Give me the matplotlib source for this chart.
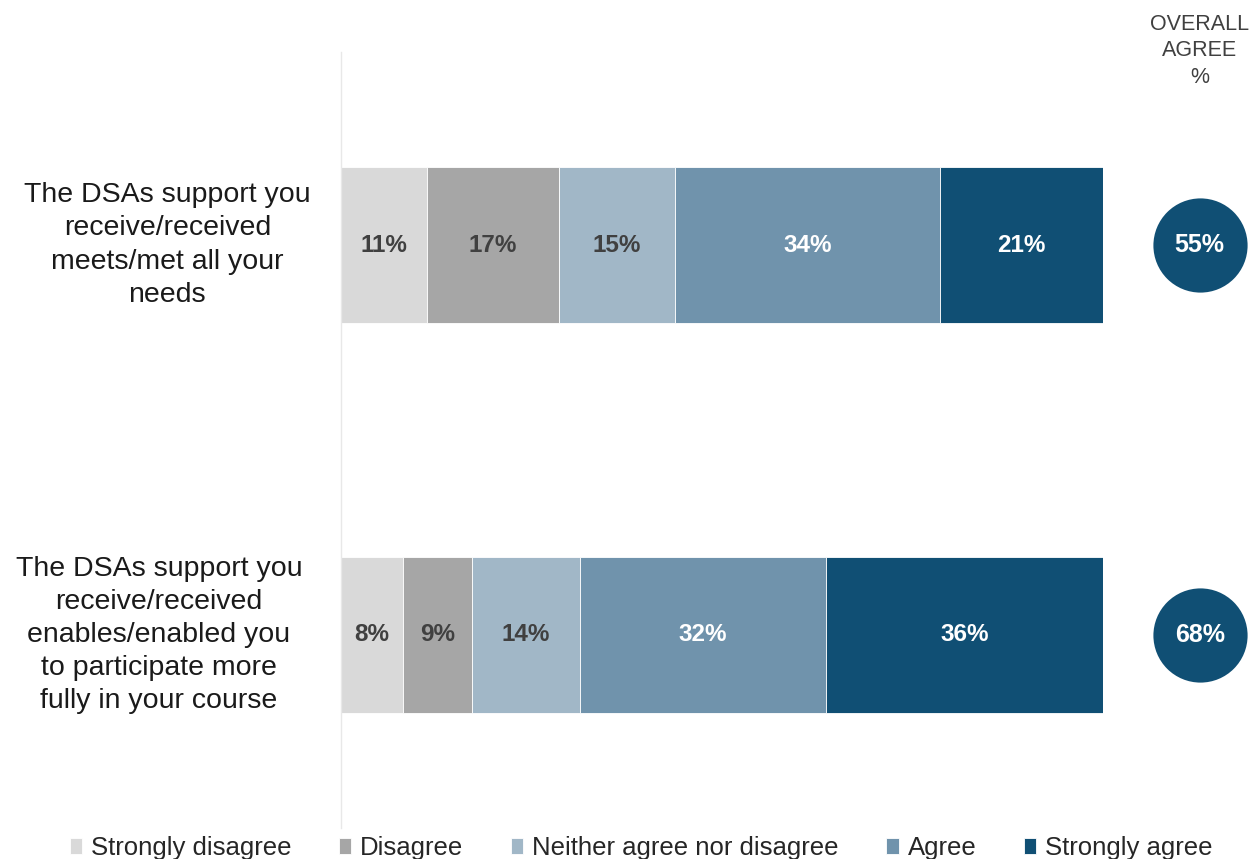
import matplotlib.pyplot as plt
import numpy as np

plt.rcParams['font.family'] = ['Liberation Sans', 'DejaVu Sans']

statements = [
    "The DSAs support you\nreceive/received\nmeets/met all your\nneeds",
    "The DSAs support you\nreceive/received\nenables/enabled you\nto participate more\nfully in your course",
]
responses = ["Strongly disagree", "Disagree", "Neither agree nor disagree", "Agree", "Strongly agree"]
strongly_disagree = [11, 8]
disagree = [17, 9]
neither = [15, 14]
agree = [34, 32]
strongly_agree = [21, 36]
overall_agree = [55, 68]

colors = ["#d9d9d9", "#a6a6a6", "#a1b7c7", "#7093ac", "#104f74"]
text_colors = ["#404040", "#404040", "#404040", "white", "white"]

series = np.array([strongly_disagree, disagree, neither, agree, strongly_agree], dtype=float)
shares = series / series.sum(axis=0) * 100  # each bar spans the full width

fig = plt.figure(figsize=(12.5, 8.59), dpi=100)
ax = fig.add_axes([341 / 1250, 1 - 828 / 859, 762 / 1250, 776 / 859])

y = np.arange(len(statements))
left = np.zeros(len(statements))
for i, name in enumerate(responses):
    ax.barh(y, shares[i], left=left, height=0.4, color=colors[i],
            edgecolor="white", linewidth=0.6, label=name)
    for j in range(len(statements)):
        ax.text(left[j] + shares[i][j] / 2, y[j], f"{int(series[i][j])}%",
                ha="center", va="center", fontsize=17.5, fontweight="bold",
                color=text_colors[i])
    left += shares[i]

ax.set_xlim(0, 100)
ax.set_ylim(1.495, -0.495)
ax.set_xticks([])
ax.set_yticks([])
for s in ["top", "right", "bottom"]:
    ax.spines[s].set_visible(False)
ax.spines["left"].set_color("#e8e8e8")
ax.spines["left"].set_linewidth(1)

# statement labels
label_x = [-0.228, -0.239]
for j, txt in enumerate(statements):
    ax.text(label_x[j], y[j], txt, transform=ax.get_yaxis_transform(),
            ha="center", va="center", multialignment="center",
            fontsize=20.5, color="#1a1a1a", linespacing=1.36)

# overall agree circles
tr = ax.get_yaxis_transform()
ax.scatter([1.127] * len(y), y, s=4600, color="#104f74", transform=tr,
           clip_on=False, zorder=5, linewidths=0)
for j, v in enumerate(overall_agree):
    ax.text(1.127, y[j], f"{v}%", transform=tr, ha="center", va="center",
            fontsize=18, fontweight="bold", color="white", zorder=6)

fig.text(1200 / 1250, 1 - 51 / 859, "OVERALL\nAGREE\n%", ha="center", va="center",
         fontsize=15.5, color="#404040", linespacing=1.32)

fig.legend(loc="center", bbox_to_anchor=(0.513, 1 - 848 / 859), ncol=5, frameon=False,
           fontsize=18.5, handlelength=0.48, handleheight=0.55, handletextpad=0.35,
           columnspacing=1.85, labelcolor="#262626")

fig.savefig("out.png", dpi=100)
